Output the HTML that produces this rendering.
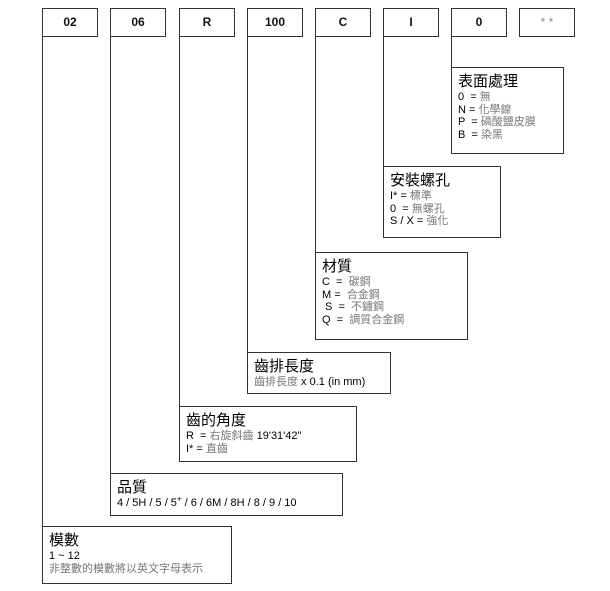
<!DOCTYPE html>
<html><head><meta charset="utf-8"><style>
body{margin:0;width:610px;height:591px;background:#fff;position:relative;overflow:hidden;font-family:"Liberation Sans","Noto Sans CJK TC",sans-serif;}
.b{position:absolute;border:1px solid #333;box-sizing:border-box;background:#fff;}
.h{text-align:center;font-size:12px;font-weight:bold;line-height:26px;color:#111;}
.v{position:absolute;width:1px;background:#333;}
.t{position:absolute;font-size:11px;line-height:12.6px;color:#000;padding:5px 0 0 6px;}
.t b{font-size:15px;font-weight:normal;display:block;line-height:18px;color:#000;}
.g{color:#777;}
</style></head><body>
<div class="b h" style="left:42px;top:8px;width:56px;height:29px">02</div>
<div class="b h" style="left:110px;top:8px;width:56px;height:29px">06</div>
<div class="b h" style="left:179px;top:8px;width:56px;height:29px">R</div>
<div class="b h" style="left:247px;top:8px;width:56px;height:29px">100</div>
<div class="b h" style="left:315px;top:8px;width:56px;height:29px">C</div>
<div class="b h" style="left:383px;top:8px;width:56px;height:29px">I</div>
<div class="b h" style="left:451px;top:8px;width:56px;height:29px">0</div>
<div class="b h" style="left:519px;top:8px;width:56px;height:29px;color:#888;font-weight:normal">* *</div>

<div class="v" style="left:42px;top:36px;height:490px"></div>
<div class="v" style="left:110px;top:36px;height:437px"></div>
<div class="v" style="left:179px;top:36px;height:370px"></div>
<div class="v" style="left:247px;top:36px;height:316px"></div>
<div class="v" style="left:315px;top:36px;height:216px"></div>
<div class="v" style="left:383px;top:36px;height:130px"></div>
<div class="v" style="left:451px;top:36px;height:31px"></div>

<div class="b t" style="left:451px;top:67px;width:113px;height:87px"><b>表面處理</b>0 &nbsp;= <span class="g">無</span><br>N = <span class="g">化學鎳</span><br>P &nbsp;= <span class="g">磷酸鹽皮膜</span><br>B &nbsp;= <span class="g">染黑</span></div>
<div class="b t" style="left:383px;top:166px;width:118px;height:72px"><b>安裝螺孔</b>I* = <span class="g">標準</span><br>0 &nbsp;= <span class="g">無螺孔</span><br>S / X = <span class="g">強化</span></div>
<div class="b t" style="left:315px;top:252px;width:153px;height:88px"><b>材質</b>C &nbsp;= &nbsp;<span class="g">碳鋼</span><br>M = &nbsp;<span class="g">合金鋼</span><br>&nbsp;S &nbsp;= &nbsp;<span class="g">不鏽鋼</span><br>Q &nbsp;= &nbsp;<span class="g">調質合金鋼</span></div>
<div class="b t" style="left:247px;top:352px;width:144px;height:42px"><b>齒排長度</b><span class="g">齒排長度</span> x 0.1 (in mm)</div>
<div class="b t" style="left:179px;top:406px;width:178px;height:56px"><b>齒的角度</b>R &nbsp;= <span class="g">右旋斜齒</span> 19'31'42"<br>I* = <span class="g">直齒</span></div>
<div class="b t" style="left:110px;top:473px;width:233px;height:43px"><b>品質</b>4 / 5H / 5 / 5<sup style="font-size:8px;line-height:0">+</sup> / 6 / 6M / 8H / 8 / 9 / 10</div>
<div class="b t" style="left:42px;top:526px;width:190px;height:58px"><b>模數</b>1 ~ 12<br><span class="g">非整數的模數將以英文字母表示</span></div>
</body></html>
